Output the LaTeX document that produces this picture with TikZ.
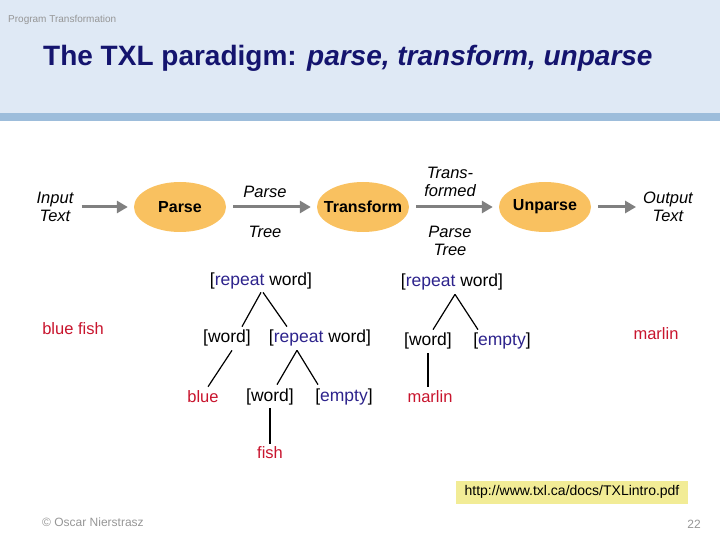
\documentclass[tikz,border=0pt]{standalone}
\usepackage{fontspec}
\setmainfont{Liberation Sans}
\usepackage{tikz}
\usetikzlibrary{arrows.meta,positioning,calc,shapes.geometric}
\definecolor{bandblue}{RGB}{223,233,245}
\definecolor{barblue}{RGB}{157,189,219}
\definecolor{titlenavy}{RGB}{20,20,110}
\definecolor{stepfill}{RGB}{249,193,96}
\definecolor{arrowgray}{RGB}{128,128,128}
\definecolor{termred}{RGB}{200,20,45}
\definecolor{kwblue}{RGB}{45,35,140}
\definecolor{urlyellow}{RGB}{242,236,150}
\definecolor{footgray}{RGB}{150,150,150}
\tikzset{
  stepnode/.style={ellipse, fill=stepfill, minimum width=92pt, minimum height=50pt,
    inner xsep=-14pt, inner ysep=0pt, font=\fontsize{16}{18}\selectfont\bfseries},
  flowlabel/.style={align=center, inner sep=1pt, font=\fontsize{16.5}{18}\selectfont\itshape},
  flow/.style={-{Triangle[length=11pt,width=12pt]}, line width=3pt, draw=arrowgray,
    shorten <=7pt, shorten >=6pt},
  treenode/.style={inner sep=1pt, font=\fontsize{17.5}{19}\selectfont},
  treeline/.style={line width=1.2pt},
  termnode/.style={inner sep=1pt, text=termred, font=\fontsize{16.5}{18}\selectfont}
}
\newcommand{\rep}{[\textcolor{kwblue}{repeat} word]}
\newcommand{\emp}{[\textcolor{kwblue}{empty}]}
\begin{document}
\begin{tikzpicture}[x=1pt,y=-1pt]
\useasboundingbox (0,0) rectangle (720,540);
% header band
\fill[bandblue] (0,0) rectangle (720,113);
\fill[barblue] (0,113) rectangle (720,121);
\node[text=footgray, font=\fontsize{10}{11}\selectfont, anchor=west, inner sep=0pt] (hdr) at (8,20) {Program Transformation};
\node[text=titlenavy, font=\fontsize{28}{32}\selectfont\bfseries, anchor=west, inner sep=0pt] (title) at (43,58)
  {The TXL paradigm: \textit{parse, transform, unparse}};

% pipeline
\node[flowlabel] (in) at (55,207) {Input\\Text};
\node[stepnode] (parse) at (180,207) {Parse};
\node[stepnode] (trans) at (363,207) {Transform};
\node[stepnode] (unparse) at (545,207) {Unparse};
\node[flowlabel] (out) at (668,207) {Output\\Text};

\draw[flow] (in) -- (parse);
\draw[flow] (parse) -- (trans);
\draw[flow] (trans) -- (unparse);
\draw[flow] (unparse) -- (out);

\node[flowlabel] (pt1) at (265,192) {Parse};
\node[flowlabel] (pt2) at (265,232) {Tree};
\node[flowlabel] (tt1) at (450,182) {Trans-\\formed};
\node[flowlabel] (tt2) at (450,241) {Parse\\Tree};

% source and result text
\node[termnode] (src) at (73,329) {blue fish};
\node[termnode] (res) at (656,334) {marlin};

% parse tree
\node[treenode] (ra) at (261,281) {\rep};
\node[treenode] (wa) at (227,338) {[word]};
\node[treenode] (rb) at (320,338) {\rep};
\node[termnode] (blue) at (203,397) {blue};
\node[treenode] (wb) at (270,397) {[word]};
\node[treenode] (ea) at (344,397) {\emp};
\node[termnode] (fish) at (270,453) {fish};

\draw[treeline] ([yshift=-2pt]ra.south) -- ([xshift=15pt,yshift=2pt]wa.north);
\draw[treeline] ([xshift=2pt,yshift=-2pt]ra.south) -- ([xshift=-33pt,yshift=2pt]rb.north);
\draw[treeline] ([xshift=5pt,yshift=-3pt]wa.south) -- ([xshift=5pt,yshift=3pt]blue.north);
\draw[treeline] ([xshift=-23pt,yshift=-3pt]rb.south) -- ([xshift=7pt,yshift=3pt]wb.north);
\draw[treeline] ([xshift=-23pt,yshift=-3pt]rb.south) -- ([xshift=-26pt,yshift=3pt]ea.north);
\draw[treeline] ([yshift=-2pt]wb.south) -- ([yshift=2pt]fish.north);

% transformed tree
\node[treenode] (rc) at (452,282) {\rep};
\node[treenode] (wc) at (428,341) {[word]};
\node[treenode] (eb) at (502,341) {\emp};
\node[termnode] (marl) at (430,397) {marlin};

\draw[treeline] ([xshift=3pt,yshift=-3pt]rc.south) -- ([xshift=5pt,yshift=2pt]wc.north);
\draw[treeline] ([xshift=3pt,yshift=-3pt]rc.south) -- ([xshift=-24pt,yshift=2pt]eb.north);
\draw[treeline] ([yshift=-3pt]wc.south) -- ([xshift=-2pt,yshift=3pt]marl.north);

% footer
\node[fill=urlyellow, minimum width=232pt, minimum height=23pt,
      font=\fontsize{14}{16}\selectfont] (url) at (572,492) {http://www.txl.ca/docs/TXLintro.pdf};
\node[text=footgray, font=\fontsize{12}{14}\selectfont] (copy) at (93,522) {© Oscar Nierstrasz};
\node[text=footgray, font=\fontsize{12}{14}\selectfont] (page) at (694,524) {22};
\end{tikzpicture}
\end{document}
